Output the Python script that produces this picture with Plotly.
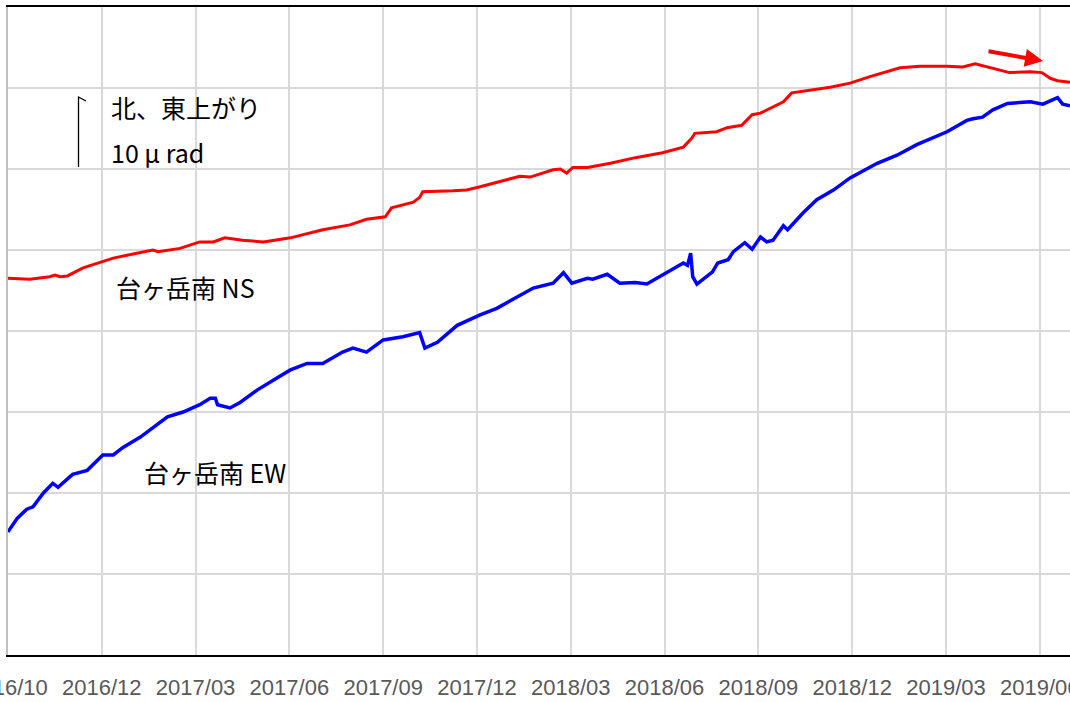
import pandas as pd
import plotly.graph_objects as go

# ---- data (days since 2016-10-01, tilt in grid units: 1 grid = 10) ----
START = "2016-10-01"

ns_days = [0, 21, 40, 45, 50, 57, 72, 88, 101, 120, 139, 144, 165, 184, 197, 208, 225, 245,
           271, 302, 328, 344, 362, 368, 389, 395, 398, 427, 440, 453, 475, 491, 501, 523,
           530, 536, 542, 556, 578, 602, 628, 648, 656, 659, 680, 690, 704, 714, 722, 744,
           752, 763, 789, 808, 827, 856, 875, 901, 916, 928, 942, 961, 981, 992, 1000, 1007,
           1019]
ns_vals = [46.5, 46.4, 46.7, 46.9, 46.7, 46.8, 47.8, 48.5, 49.0, 49.5, 50.0, 49.8, 50.2, 51.0,
           51.0, 51.5, 51.2, 51.0, 51.5, 52.5, 53.1, 53.8, 54.1, 55.2, 55.9, 56.5, 57.2, 57.3,
           57.4, 57.8, 58.6, 59.1, 59.0, 59.9, 60.0, 59.5, 60.2, 60.2, 60.7, 61.4, 62.0, 62.7,
           63.8, 64.4, 64.6, 65.1, 65.4, 66.7, 66.9, 68.3, 69.4, 69.6, 70.1, 70.6, 71.4, 72.5,
           72.7, 72.7, 72.6, 73.0, 72.5, 71.9, 72.0, 71.9, 71.2, 70.9, 70.7]

ew_days = [0, 9, 18, 24, 34, 43, 48, 62, 76, 88, 91, 101, 110, 127, 139, 153, 168, 184, 194,
           199, 201, 213, 223, 239, 258, 271, 287, 302, 321, 331, 344, 360, 379, 395, 400, 412,
           431, 453, 469, 491, 504, 523, 533, 541, 556, 561, 575, 587, 602, 613, 628, 648, 652,
           655, 657, 661, 676, 681, 691, 696, 707, 714, 722, 728, 734, 744, 748, 763, 776, 792,
           808, 834, 853, 872, 901, 920, 926, 935, 945, 959, 981, 993, 1007, 1012, 1019]
ew_vals = [15.2, 16.9, 18.0, 18.3, 20.0, 21.2, 20.7, 22.3, 22.8, 24.3, 24.7, 24.7, 25.6, 26.9,
           28.1, 29.4, 30.0, 30.9, 31.7, 31.7, 30.9, 30.5, 31.2, 32.7, 34.2, 35.2, 36.0, 36.0,
           37.4, 37.9, 37.4, 38.9, 39.3, 39.8, 37.9, 38.6, 40.7, 42.0, 42.8, 44.4, 45.3, 45.9,
           47.2, 45.9, 46.5, 46.4, 47.0, 45.9, 46.0, 45.8, 46.9, 48.4, 48.1, 49.6, 46.7, 45.8,
           47.3, 48.4, 48.8, 49.8, 50.9, 50.1, 51.6, 51.0, 51.2, 53.0, 52.5, 54.6, 56.2, 57.4,
           58.9, 60.7, 61.7, 63.0, 64.6, 66.0, 66.2, 66.4, 67.3, 68.1, 68.3, 68.0, 68.8, 68.0,
           67.8]

series_names = ["台ヶ岳南 NS", "台ヶ岳南 EW"]
label_notes = ["北、東上がり", "10 μ rad"]
range_days = 1019

start = pd.Timestamp(START)
to_dates = lambda d: start + pd.to_timedelta(d, unit="D")

W, H = 1070, 702
ML, MR, MT, MB = 8, 0, 7, 47
PW, PH = W - ML - MR, H - MT - MB


def px(x):
    return (x - ML) / PW


def py(y):
    return (H - MB - y) / PH


fig = go.Figure()
fig.add_trace(go.Scatter(x=to_dates(ns_days), y=ns_vals, mode="lines",
                         line=dict(color="#ff0000", width=3), name=series_names[0]))
fig.add_trace(go.Scatter(x=to_dates(ew_days), y=ew_vals, mode="lines",
                         line=dict(color="#0000ff", width=3.5), name=series_names[1]))

fig.update_layout(
    width=W, height=H, margin=dict(l=ML, r=MR, t=MT, b=MB),
    paper_bgcolor="white", plot_bgcolor="white", showlegend=False,
    xaxis=dict(type="date", range=[start, to_dates(range_days)],
               tick0=START, dtick=90 * 86400000, tickformat="%Y/%m",
               showgrid=True, gridcolor="#d9d9d9", gridwidth=2,
               showline=True, linecolor="black", linewidth=2, mirror=True,
               ticks="outside", ticklen=12, tickcolor="rgba(0,0,0,0)",
               ticklabeloverflow="allow",
               tickfont=dict(family="Liberation Sans", size=22, color="#595959"),
               automargin=False, zeroline=False, fixedrange=True),
    yaxis=dict(range=[0, 80], dtick=10, showgrid=True, gridcolor="#d9d9d9", gridwidth=2,
               showticklabels=False, zeroline=False, showline=True,
               linecolor="#bfbfbf", linewidth=2, automargin=False, fixedrange=True),
)

# white boxes behind scale bar / note
fig.add_shape(type="rect", xref="paper", yref="paper", layer="between",
              x0=px(64), x1=px(280), y0=py(166.5), y1=py(89.5),
              fillcolor="white", line=dict(width=0))
fig.add_shape(type="rect", xref="paper", yref="paper", layer="between",
              x0=px(64), x1=px(93), y0=py(170), y1=py(89.5),
              fillcolor="white", line=dict(width=0))
# scale bar
fig.add_shape(type="path", xref="paper", yref="paper",
              path=f"M{px(78.5)},{py(167)} L{px(78.5)},{py(97)} L{px(86)},{py(101)}",
              line=dict(color="black", width=1.3))

font_jp = "Noto Sans CJK JP"
for txt, x, y in [(label_notes[0], 109, 107), (label_notes[1], 109, 152),
                  (series_names[0], 114, 287), (series_names[1], 142, 472)]:
    fig.add_annotation(text=txt, xref="paper", yref="paper", x=px(x), y=py(y),
                       xanchor="left", yanchor="middle", showarrow=False,
                       font=dict(family=font_jp, size=25, color="black"))

# red arrow
fig.add_annotation(text="", xref="paper", yref="paper", x=px(1043), y=py(61),
                   ax=-56, ay=-10, showarrow=True, arrowhead=2, arrowsize=0.9,
                   arrowwidth=4, arrowcolor="#ff0000")

fig.write_html("out.html", config={"displayModeBar": False},
               post_script="document.body.style.margin='0';")
